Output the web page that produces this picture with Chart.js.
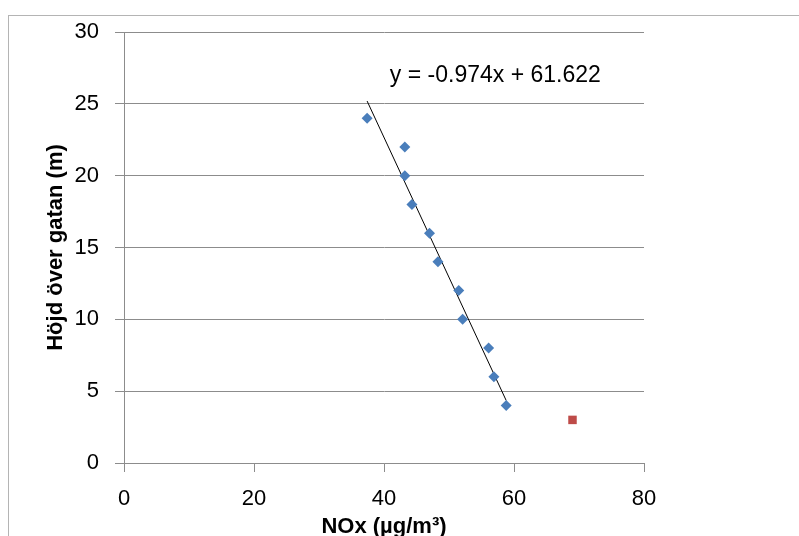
<!DOCTYPE html>
<html>
<head>
<meta charset="utf-8">
<script src="https://cdn.jsdelivr.net/npm/chart.js@4"></script>
<style>
  html, body { margin: 0; padding: 0; background: #fff; }
  #wrap { width: 799px; height: 536px; }
</style>
</head>
<body>
<div id="wrap"><canvas id="chartCanvas" width="799" height="536"></canvas></div>
<script>
// --- data ---
const noxValues = [37.4, 43.2, 43.2, 44.3, 47.0, 48.3, 51.5, 52.1, 56.1, 56.9, 58.8];
const heightValues = [24, 22, 20, 18, 16, 14, 12, 10, 8, 6, 4];
const outlierNox = [69.0];
const outlierHeight = [3];
// trendline as printed on the chart
const trendSlope = -0.974;
const trendIntercept = 61.622;
const trendLabel = "y = -0.974x + 61.622";
const xTicks = [0, 20, 40, 60, 80];
const yTicks = [0, 5, 10, 15, 20, 25, 30];

const gridGrey = "#8c8c8c";
const font = "'Liberation Sans', Arial, sans-serif";

const trendX = [Math.min(...noxValues), Math.max(...noxValues)];
const trendPoints = trendX.map(x => ({ x, y: trendSlope * x + trendIntercept }));

// frame + equation text
const extras = {
  id: "extras",
  beforeDraw(chart) {
    const ctx = chart.ctx;
    ctx.save();
    ctx.strokeStyle = "#b4b4b4";
    ctx.lineWidth = 1;
    ctx.strokeRect(8.5, 15.5, 900, 700);
    ctx.restore();
  },
  afterDraw(chart) {
    const ctx = chart.ctx;
    const xs = chart.scales.x, ys = chart.scales.y;
    ctx.save();
    ctx.fillStyle = "#000";
    ctx.font = `23px ${font}`;
    ctx.textBaseline = "middle";
    ctx.textAlign = "left";
    ctx.fillText(trendLabel, xs.getPixelForValue(40.9), ys.getPixelForValue(26.95));
    ctx.restore();
  }
};

new Chart(document.getElementById("chartCanvas"), {
  type: "scatter",
  data: {
    datasets: [
      {
        label: "Höjd",
        data: noxValues.map((x, i) => ({ x, y: heightValues[i] })),
        pointStyle: "rectRot",
        pointRadius: 5.5,
        backgroundColor: "#4a7ebb",
        borderColor: "#4a7ebb",
        borderWidth: 0
      },
      {
        label: "Utanför",
        data: outlierNox.map((x, i) => ({ x, y: outlierHeight[i] })),
        pointStyle: "rect",
        pointRadius: 6,
        backgroundColor: "#be4b48",
        borderColor: "#be4b48",
        borderWidth: 0
      },
      {
        label: "Trend",
        type: "line",
        data: trendPoints,
        borderColor: "#000",
        borderWidth: 1,
        pointRadius: 0,
        fill: false
      }
    ]
  },
  options: {
    responsive: false,
    animation: false,
    layout: { padding: { top: 32, right: 155, left: 0, bottom: 0 } },
    plugins: {
      legend: { display: false },
      tooltip: { enabled: false }
    },
    scales: {
      x: {
        type: "linear",
        min: 0, max: 80,
        afterBuildTicks: s => { s.ticks = xTicks.map(v => ({ value: v })); },
        afterFit: s => { s.height = 73; },
        grid: { drawOnChartArea: false, drawTicks: true, tickLength: 9, tickColor: gridGrey },
        border: { color: gridGrey, width: 1 },
        ticks: { color: "#000", padding: 14, font: { family: font, size: 22 } },
        title: {
          display: true, text: "NOx (µg/m³)", color: "#000",
          font: { family: font, size: 22, weight: "bold", lineHeight: 0.8 },
          padding: { top: 0, bottom: 0 }
        }
      },
      y: {
        type: "linear",
        min: 0, max: 30,
        afterBuildTicks: s => { s.ticks = yTicks.map(v => ({ value: v })); },
        afterFit: s => { s.width = 124; },
        grid: { color: gridGrey, lineWidth: 1, drawTicks: true, tickLength: 9, tickColor: gridGrey },
        border: { color: gridGrey, width: 1 },
        ticks: { color: "#000", padding: 16, font: { family: font, size: 22 } },
        title: {
          display: true, text: "Höjd över gatan (m)", color: "#000",
          font: { family: font, size: 22, weight: "bold", lineHeight: 1.2 },
          padding: { top: 43, bottom: 0 }
        }
      }
    }
  },
  plugins: [extras]
});
</script>
</body>
</html>
